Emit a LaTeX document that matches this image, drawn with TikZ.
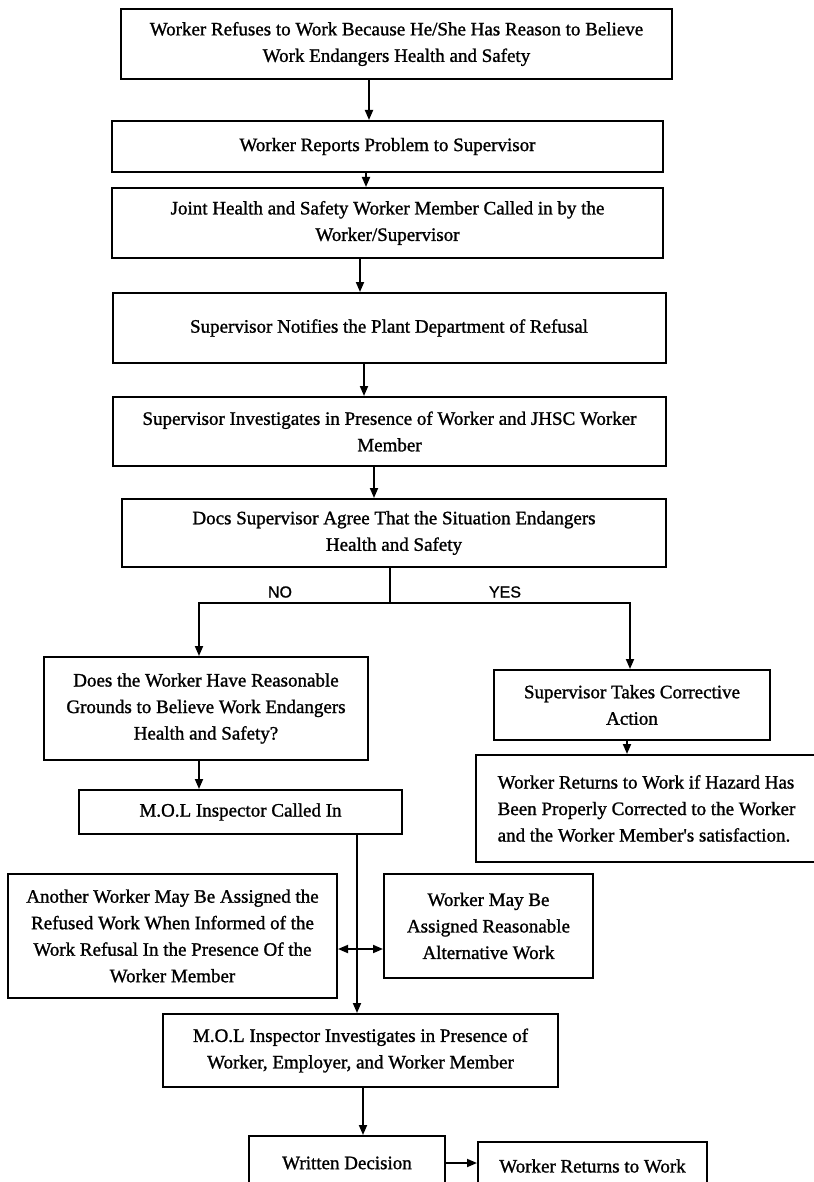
\documentclass[tikz,border=0pt]{standalone}
\usepackage{fontspec}
\setmainfont{Liberation Serif}
\newfontfamily\boxfont{Liberation Serif}[FakeBold=1.2]
\newfontfamily\labelfont{Liberation Sans}[FakeBold=1]
\usetikzlibrary{arrows.meta}

\begin{document}
\begin{tikzpicture}[x=1pt, y=-1pt,
  box/.style={draw, line width=2pt, align=center, inner sep=0pt,
    font=\boxfont\fontsize{19}{26.5}\selectfont},
  lbl/.style={font=\labelfont\fontsize{16}{16}\selectfont},
  line/.style={line width=1.8pt},
  arr/.style={line width=1.8pt, -{Triangle[length=10pt, width=8pt]}}]
  % Page frame
  \useasboundingbox (0,0) rectangle (813,1182);

  % Main column
  \node[box, minimum width=551pt, minimum height=70pt] (refuse) at (396.5,44)
    {Worker Refuses to Work Because He/She Has Reason to Believe\\Work Endangers Health and Safety};
  \node[box, minimum width=551pt, minimum height=51pt] (report) at (387.5,146.5)
    {Worker Reports Problem to Supervisor};
  \node[box, minimum width=551pt, minimum height=70pt] (joint) at (387.5,223)
    {Joint Health and Safety Worker Member Called in by the\\Worker/Supervisor};
  \node[box, minimum width=553pt, minimum height=70pt] (notify) at (389,328)
    {Supervisor Notifies the Plant Department of Refusal};
  \node[box, minimum width=553pt, minimum height=69pt] (investigate) at (389.5,431.5)
    {Supervisor Investigates in Presence of Worker and JHSC Worker\\Member};
  \node[box, minimum width=544pt, minimum height=68pt] (agree) at (394,533)
    {Docs Supervisor Agree That the Situation Endangers\\Health and Safety};

  % Branches
  \node[box, minimum width=324pt, minimum height=103pt] (grounds) at (206,708.5)
    {Does the Worker Have Reasonable\\Grounds to Believe Work Endangers\\Health and Safety?};
  \node[box, minimum width=276pt, minimum height=70pt] (corrective) at (632,705)
    {Supervisor Takes Corrective\\Action};
  \node[box, minimum width=341pt, minimum height=107pt, align=left] (returnfix) at (646.5,808.5)
    {Worker Returns to Work if Hazard Has\\Been Properly Corrected to the Worker\\and the Worker Member's satisfaction.};
  \node[box, minimum width=323pt, minimum height=44pt] (molcall) at (240.5,812)
    {M.O.L Inspector Called In};
  \node[box, minimum width=329pt, minimum height=124pt] (another) at (172.5,936)
    {Another Worker May Be Assigned the\\Refused Work When Informed of the\\Work Refusal In the Presence Of the\\Worker Member};
  \node[box, minimum width=209pt, minimum height=104pt] (alternative) at (488.5,926)
    {Worker May Be\\Assigned Reasonable\\Alternative Work};
  \node[box, minimum width=395pt, minimum height=73pt] (molinv) at (360.5,1050.5)
    {M.O.L Inspector Investigates in Presence of\\Worker, Employer, and Worker Member};
  \node[box, minimum width=196pt, minimum height=54pt] (written) at (347,1163)
    {Written Decision};
  \node[box, minimum width=229pt, minimum height=48pt] (back) at (592.5,1166)
    {Worker Returns to Work};

  % Connectors down the column
  \draw[arr] ([xshift=-27.5pt]refuse.south) -- ([xshift=-27.5pt]refuse.south |- report.north);
  \draw[arr] ([xshift=-21.5pt]report.south) -- ([xshift=-21.5pt]report.south |- joint.north);
  \draw[arr] ([xshift=-27.5pt]joint.south) -- ([xshift=-27.5pt]joint.south |- notify.north);
  \draw[arr] ([xshift=-25pt]notify.south) -- ([xshift=-25pt]notify.south |- investigate.north);
  \draw[arr] ([xshift=-15.5pt]investigate.south) -- ([xshift=-15.5pt]investigate.south |- agree.north);

  % Decision split
  \coordinate (split) at (390,603);
  \draw[line] (split |- agree.south) -- (split);
  \draw[arr] (split) -| ([xshift=-7pt]grounds.north);
  \draw[arr] (split) -| ([xshift=-2pt]corrective.north);
  \node[lbl] (no) at (280,592) {NO};
  \node[lbl] (yes) at (505,592) {YES};

  \draw[arr] ([xshift=-5pt]corrective.south) -- ([xshift=-5pt]corrective.south |- returnfix.north);
  \draw[arr] ([xshift=-7pt]grounds.south) -- ([xshift=-7pt]grounds.south |- molcall.north);
  \draw[arr] ([xshift=-3.5pt]molinv.north |- molcall.south) -- ([xshift=-3.5pt]molinv.north);

  % Side assignments
  \coordinate (fork) at (357,949);
  \draw[arr] (fork) -- (fork -| another.east);
  \draw[arr] (fork) -- (fork -| alternative.west);

  % Decision
  \draw[arr] ([xshift=2.5pt]molinv.south) -- ([xshift=2.5pt]molinv.south |- written.north);
  \draw[arr] (written.east) -- (written.east -| back.west);
\end{tikzpicture}
\end{document}
